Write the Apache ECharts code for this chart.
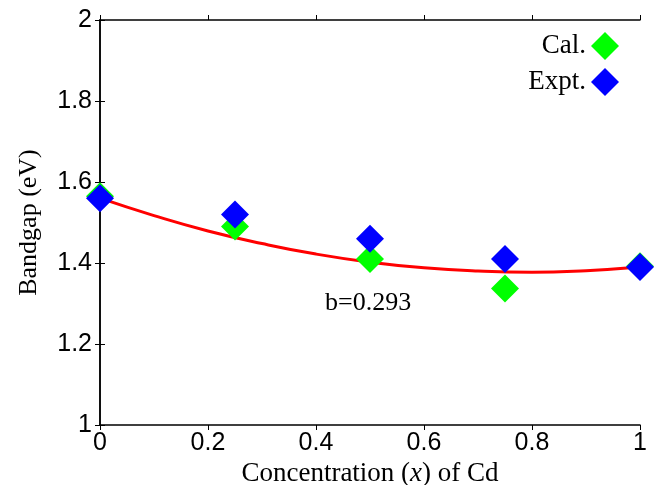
<!DOCTYPE html>
<html>
<head>
<meta charset="utf-8">
<script src="https://cdn.jsdelivr.net/npm/echarts@6/dist/echarts.min.js"></script>
<style>
  html, body { margin: 0; padding: 0; background: #fff; }
  #chart { width: 656px; height: 485px; }
</style>
</head>
<body>
<div id="chart"></div>
<script>
// concentration of Cd
const xValues = [0, 0.25, 0.5, 0.75, 1];
// bandgap values (eV)
const calValues = [1.565, 1.49, 1.41, 1.337, 1.392];
const exptValues = [1.56, 1.52, 1.46, 1.41, 1.39];
// bowing fit curve (b=0.293), sampled from the figure
const fitX = [0, 0.1, 0.2, 0.3, 0.4, 0.5, 0.6, 0.7, 0.8, 0.9, 1];
const fitY = [1.56, 1.517, 1.479, 1.448, 1.422, 1.402, 1.388, 1.38, 1.377, 1.381, 1.39];

const serif = '"Liberation Serif", "Times New Roman", serif';
const sans = '"Liberation Sans", Arial, Helvetica, sans-serif';

const chart = echarts.init(document.getElementById('chart'));

const zip = (xs, ys) => xs.map((x, i) => [x, ys[i]]);

const axisCommon = {
  axisLine: { show: true, lineStyle: { color: '#000', width: 1.5 } },
  axisTick: { show: true, inside: false, length: 5, lineStyle: { color: '#000', width: 1 } },
  splitLine: { show: false }
};

chart.setOption({
  animation: false,
  backgroundColor: '#fff',
  grid: { left: 100, right: 16, top: 20, bottom: 60, outerBoundsMode: 'none' },
  legend: {
    orient: 'vertical',
    right: 32,
    top: 27,
    align: 'right',
    itemWidth: 28,
    itemHeight: 28,
    itemGap: 8,
    data: ['Cal.', 'Expt.'],
    textStyle: { fontFamily: serif, fontSize: 27, color: '#000' }
  },
  xAxis: [
    Object.assign({
      type: 'value',
      min: 0,
      max: 1,
      interval: 0.2,
      name: 'Concentration ({i|x}) of Cd',
      nameLocation: 'middle',
      nameGap: 27,
      nameTextStyle: {
        fontFamily: serif, fontSize: 27, color: '#000',
        rich: { i: { fontFamily: serif, fontSize: 27, fontStyle: 'italic', color: '#000' } }
      },
      axisLabel: {
        fontFamily: sans, fontSize: 25, color: '#000', margin: 6,
        formatter: v => String(+v.toFixed(1))
      }
    }, axisCommon),
    Object.assign({
      type: 'value', min: 0, max: 1, interval: 0.2, position: 'top',
      axisLabel: { show: false }
    }, axisCommon)
  ],
  yAxis: [
    Object.assign({
      type: 'value',
      min: 1,
      max: 2,
      interval: 0.2,
      name: 'Bandgap (eV)',
      nameLocation: 'middle',
      nameGap: 58,
      nameTextStyle: { fontFamily: serif, fontSize: 26, color: '#000' },
      axisLabel: {
        fontFamily: sans, fontSize: 25, color: '#000', margin: 8,
        formatter: v => String(+v.toFixed(1))
      }
    }, axisCommon),
    Object.assign({
      type: 'value', min: 1, max: 2, interval: 0.2, position: 'right',
      axisLabel: { show: false }
    }, axisCommon)
  ],
  series: [
    {
      name: 'fit',
      type: 'line',
      smooth: true,
      symbol: 'none',
      data: zip(fitX, fitY),
      lineStyle: { color: '#ff0000', width: 3 },
      z: 1
    },
    {
      name: 'Cal.',
      type: 'scatter',
      symbol: 'diamond',
      symbolSize: 28,
      data: zip(xValues, calValues),
      itemStyle: { color: '#00ff00', opacity: 1 },
      z: 2
    },
    {
      name: 'Expt.',
      type: 'scatter',
      symbol: 'diamond',
      symbolSize: 28,
      data: zip(xValues, exptValues),
      itemStyle: { color: '#0000ff', opacity: 1 },
      z: 3
    }
  ],
  graphic: [
    {
      type: 'text',
      left: 325,
      top: 290,
      style: { text: 'b=0.293', font: '26px ' + serif, fill: '#000' }
    }
  ]
});
</script>
</body>
</html>
